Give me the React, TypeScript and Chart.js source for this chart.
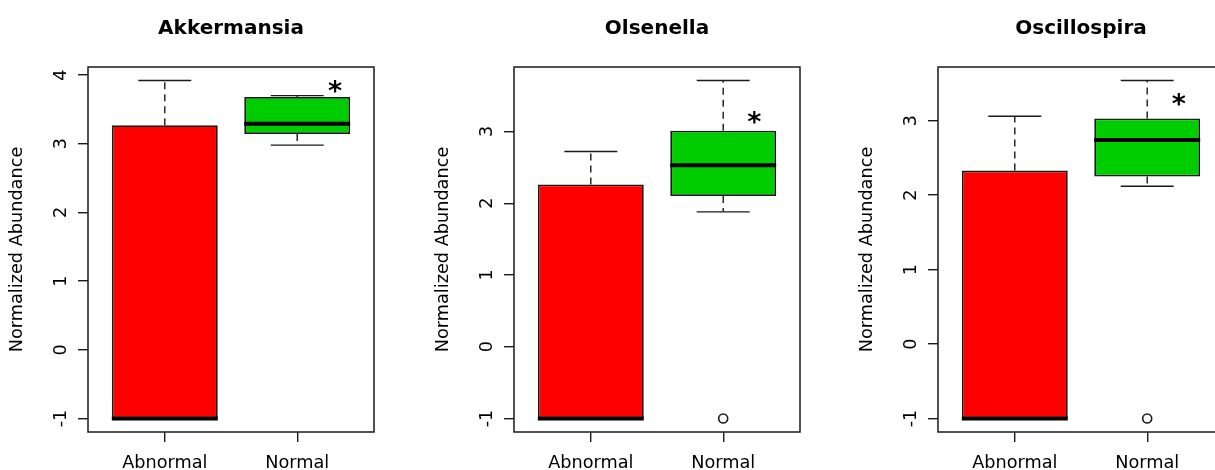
import React, { useEffect, useRef } from 'react';
import { Chart, registerables } from 'chart.js';

Chart.register(...registerables);

// Group labels (x-axis categories)
const groups = ['Abnormal', 'Normal'];
const titles = ['Akkermansia', 'Olsenella', 'Oscillospira'];

// Box statistics: [lower whisker, Q1, median, Q3, upper whisker]
const akkAbnormal = [-1, -1, -1, 3.27, 3.92];
const akkNormal = [2.98, 3.14, 3.29, 3.68, 3.70];
const olsAbnormal = [-1, -1, -1, 2.26, 2.72];
const olsNormal = [1.88, 2.10, 2.53, 3.01, 3.71];
const oscAbnormal = [-1, -1, -1, 2.33, 3.06];
const oscNormal = [2.12, 2.25, 2.74, 3.03, 3.54];

// Outliers per group [abnormal, normal]
const akkOutliers: number[][] = [[], []];
const olsOutliers: number[][] = [[], [-1]];
const oscOutliers: number[][] = [[], [-1]];

// y tick values
const akkTicks = [-1, 0, 1, 2, 3, 4];
const olsTicks = [-1, 0, 1, 2, 3];
const oscTicks = [-1, 0, 1, 2, 3];

// significance marker positions [x, y] in data units
const akkStar = [2.285, 3.83];
const olsStar = [2.235, 3.2];
const oscStar = [2.238, 3.28];

const boxColors = ['#FF0000', '#00CD00'];
const LINE = '#1a1a1a';
const FONT = 'DejaVu Sans';

const boxPlugin = {
  id: 'boxDetails',
  afterDatasetsDraw(chart: any) {
    const opts = chart.options.plugins.boxDetails;
    if (!opts) return;
    const { ctx, chartArea } = chart;
    const xs = chart.scales.x;
    const ys = chart.scales.y;
    const stats: number[][] = opts.stats;
    ctx.save();
    stats.forEach((s, i) => {
      const cx = xs.getPixelForValue(i + 1);
      const capL = xs.getPixelForValue(i + 1 - 0.2);
      const capR = xs.getPixelForValue(i + 1 + 0.2);
      const medL = xs.getPixelForValue(i + 1 - 0.4);
      const medR = xs.getPixelForValue(i + 1 + 0.4);
      const pLo = ys.getPixelForValue(s[0]);
      const pQ1 = ys.getPixelForValue(s[1]);
      const pMed = ys.getPixelForValue(s[2]);
      const pQ3 = ys.getPixelForValue(s[3]);
      const pHi = ys.getPixelForValue(s[4]);
      ctx.strokeStyle = LINE;
      ctx.lineWidth = 1.4;
      // whiskers (dashed)
      ctx.setLineDash([7, 5]);
      ctx.beginPath();
      if (pQ3 - pHi > 0.5) {
        ctx.moveTo(cx, pQ3);
        ctx.lineTo(cx, pHi);
      }
      if (pLo - pQ1 > 0.5) {
        ctx.moveTo(cx, pQ1);
        ctx.lineTo(cx, pLo);
      }
      ctx.stroke();
      ctx.setLineDash([]);
      // caps
      ctx.beginPath();
      ctx.moveTo(capL, pHi);
      ctx.lineTo(capR, pHi);
      ctx.moveTo(capL, pLo);
      ctx.lineTo(capR, pLo);
      ctx.stroke();
      // median
      ctx.lineWidth = 4;
      ctx.strokeStyle = '#000';
      ctx.beginPath();
      ctx.moveTo(medL, pMed);
      ctx.lineTo(medR, pMed);
      ctx.stroke();
    });
    // significance marker
    const star = opts.star;
    ctx.fillStyle = '#000';
    ctx.font = `bold 27px "${FONT}"`;
    ctx.textAlign = 'center';
    ctx.textBaseline = 'alphabetic';
    const m = ctx.measureText('*');
    const sx = xs.getPixelForValue(star[0]);
    const sy = ys.getPixelForValue(star[1]);
    ctx.fillText('*', sx, sy + (m.actualBoundingBoxAscent - m.actualBoundingBoxDescent) / 2);
    // plot frame
    ctx.strokeStyle = LINE;
    ctx.lineWidth = 1.5;
    ctx.strokeRect(chartArea.left, chartArea.top, chartArea.right - chartArea.left, chartArea.bottom - chartArea.top);
    ctx.restore();
  },
};

type PanelProps = {
  title: string;
  abnormal: number[];
  normal: number[];
  outliers: number[][];
  yTicks: number[];
  star: number[];
  left: number;
};

function Panel({ title, abnormal, normal, outliers, yTicks, star, left }: PanelProps) {
  const ref = useRef<HTMLCanvasElement | null>(null);
  useEffect(() => {
    if (!ref.current) return;
    const stats = [abnormal, normal];
    const all = [...abnormal, ...normal, ...outliers[0], ...outliers[1]];
    const lo = Math.min(...all);
    const hi = Math.max(...all);
    const pad = (hi - lo) * 0.04;
    const outlierPoints: { x: number; y: number }[] = [];
    outliers.forEach((arr, i) => arr.forEach((v) => outlierPoints.push({ x: i + 1, y: v })));
    const tickFont = { family: FONT, size: 17.7 };
    const chart = new Chart(ref.current, {
      type: 'bar',
      data: {
        datasets: [
          {
            type: 'bar',
            data: stats.map((s, i) => ({ x: i + 1, y: [s[1], s[3]] })) as any,
            backgroundColor: boxColors,
            borderColor: LINE,
            borderWidth: 1.8,
            borderSkipped: false,
            categoryPercentage: 1,
            barPercentage: 0.8,
          } as any,
          {
            type: 'scatter',
            data: outlierPoints,
            pointRadius: 4.5,
            pointBackgroundColor: 'rgba(255,255,255,0)',
            pointBorderColor: LINE,
            pointBorderWidth: 1.6,
          } as any,
        ],
      },
      options: {
        animation: false,
        responsive: false,
        maintainAspectRatio: false,
        layout: { padding: { left: 0, right: 51, top: 0, bottom: 0 } },
        plugins: {
          legend: { display: false },
          tooltip: { enabled: false },
          title: {
            display: true,
            text: title,
            fullSize: false,
            color: '#000',
            font: { family: FONT, size: 20, weight: 'bold' },
            padding: { top: 17, bottom: 26 },
          },
          boxDetails: { stats, star },
        } as any,
        scales: {
          x: {
            type: 'linear',
            min: 0.42,
            max: 2.58,
            offset: false,
            afterBuildTicks: (s: any) => {
              s.ticks = groups.map((_, i) => ({ value: i + 1 }));
            },
            afterFit: (s: any) => {
              s.height = 38;
            },
            ticks: {
              callback: (v: any) => groups[Math.round(v) - 1],
              font: tickFont,
              color: '#000',
              padding: 11,
              maxRotation: 0,
              minRotation: 0,
              autoSkip: false,
            },
            grid: { display: true, offset: false, drawOnChartArea: false, drawTicks: true, tickLength: 10, color: LINE, lineWidth: 1.4 },
            border: { display: false },
          },
          y: {
            type: 'linear',
            min: lo - pad,
            max: hi + pad,
            afterBuildTicks: (s: any) => {
              s.ticks = yTicks.map((v) => ({ value: v }));
            },
            afterFit: (s: any) => {
              s.width = 88;
            },
            ticks: {
              font: tickFont,
              color: '#000',
              minRotation: 90,
              maxRotation: 90,
              crossAlign: 'center',
              padding: 8,
              autoSkip: false,
            },
            grid: { display: true, offset: false, drawOnChartArea: false, drawTicks: true, tickLength: 10, color: LINE, lineWidth: 1.4 },
            border: { display: false },
            title: {
              display: true,
              text: 'Normalized Abundance',
              color: '#000',
              font: { family: FONT, size: 17.7 },
              padding: { top: 7, bottom: 0 },
            },
          },
        } as any,
      },
      plugins: [boxPlugin],
    });
    return () => chart.destroy();
  }, []);
  return (
    <canvas
      ref={ref}
      width={425}
      height={470}
      style={{ position: 'absolute', left, top: 0, width: 425, height: 470 }}
    />
  );
}

export default function App() {
  return (
    <div
      style={{
        position: 'absolute',
        left: 0,
        top: 0,
        width: 1215,
        height: 470,
        overflow: 'hidden',
        background: '#fff',
      }}
    >
      <Panel title={titles[0]} abnormal={akkAbnormal} normal={akkNormal} outliers={akkOutliers} yTicks={akkTicks} star={akkStar} left={0} />
      <Panel title={titles[1]} abnormal={olsAbnormal} normal={olsNormal} outliers={olsOutliers} yTicks={olsTicks} star={olsStar} left={426} />
      <Panel title={titles[2]} abnormal={oscAbnormal} normal={oscNormal} outliers={oscOutliers} yTicks={oscTicks} star={oscStar} left={850} />
    </div>
  );
}
